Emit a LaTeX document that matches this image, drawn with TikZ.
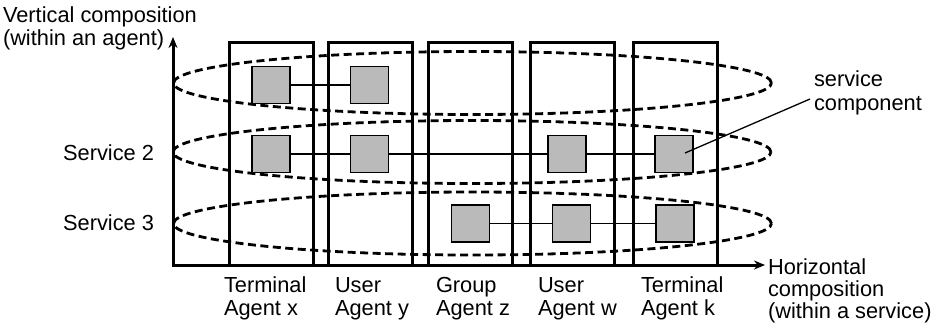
\documentclass[tikz,border=0pt]{standalone}
\usepackage{fontspec}
\setmainfont{Liberation Sans}
\usetikzlibrary{arrows.meta,calc,shapes.geometric}
\begin{document}
\begin{tikzpicture}[x=1pt,y=-1pt,
  agentbox/.style={draw,line width=3pt,minimum width=84pt,minimum height=223pt,inner sep=0pt,outer sep=0pt},
  svcell/.style={ellipse,draw,line width=2.8pt,dash pattern=on 8pt off 4.5pt,minimum width=598pt,minimum height=63pt,inner sep=0pt},
  comp/.style={draw,line width=1.4pt,fill=black!27,minimum width=38pt,minimum height=37pt,inner sep=0pt,outer sep=0pt},
  link/.style={line width=1.3pt},
  axisline/.style={line width=3pt,{Stealth[length=11pt,width=9pt]}-{Stealth[length=11pt,width=9pt]}},
  lbl/.style={font=\fontsize{21.8}{23}\selectfont,inner sep=0pt,outer sep=0pt,anchor=base west},
  lblr/.style={lbl,anchor=base east},
]
\useasboundingbox (0,0) rectangle (933,330);

% agent boxes
\node[agentbox] (ax) at (271,153.5) {};
\node[agentbox] (ay) at (370,153.5) {};
\node[agentbox] (az) at (470,153.5) {};
\node[agentbox] (aw) at (572.5,153.5) {};
\node[agentbox] (ak) at (675.5,153.5) {};

% axes
\coordinate (O) at (173,265);
\coordinate (vtop) at (173,37);
\coordinate (hend) at (765,265);
\draw[axisline] (vtop) -- (O) -- (hend);

% services (ellipses)
\node[svcell] (sv1) at (472.5,83) {};
\node[svcell] (sv2) at (472,152) {};
\node[svcell] (sv3) at (472.5,223.5) {};

% service components
\node[comp] (c1x) at (271,85) {};
\node[comp] (c1y) at (369.5,85) {};
\node[comp] (c2x) at (271,154) {};
\node[comp] (c2y) at (369.5,154) {};
\node[comp] (c2w) at (567,154) {};
\node[comp] (c2k) at (674,154) {};
\node[comp] (c3z) at (470.5,223.5) {};
\node[comp] (c3w) at (571.5,223.5) {};
\node[comp] (c3k) at (675,223.5) {};

% links
\draw[link] (c1x) -- (c1y);
\draw[link] (c2x) -- (c2y);
\draw[link] (c2y) -- (c2w);
\draw[link] (c2w) -- (c2k);
\draw[link] (c3z) -- (c3w);
\draw[link] (c3w) -- (c3k);

% labels
\node[lbl] (vt1) at (3,22) {Vertical composition};
\node[lbl] (vt2) at (3,45) {(within an agent)};
\node[lblr] (s2l) at (154,160) {Service 2};
\node[lblr] (s3l) at (154,230) {Service 3};

\node[lbl] (lx1) at (224,292) {Terminal};
\node[lbl] (lx2) at (224,315) {Agent x};
\node[lbl] (ly1) at (335,292) {User};
\node[lbl] (ly2) at (335,315) {Agent y};
\node[lbl] (lz1) at (436,292) {Group};
\node[lbl] (lz2) at (436,315) {Agent z};
\node[lbl] (lw1) at (538,292) {User};
\node[lbl] (lw2) at (538,315) {Agent w};
\node[lbl] (lk1) at (641,292) {Terminal};
\node[lbl] (lk2) at (641,315) {Agent k};

\node[lbl] (h1) at (768,274) {Horizontal};
\node[lbl] (h2) at (768,296) {composition};
\node[lbl] (h3) at (768,318) {(within a service)};

\node[lbl] (sc1) at (814,86) {service};
\node[lbl] (sc2) at (814,110) {component};
\coordinate (ldstart) at (810,99);
\draw[link] (ldstart) -- ($(c2k.center)+(11,-1)$);
\end{tikzpicture}
\end{document}
